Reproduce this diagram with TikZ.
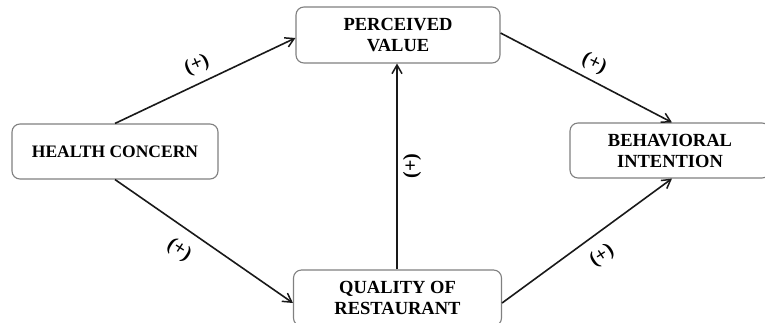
\documentclass[tikz,border=0pt]{standalone}
\usepackage{fontspec}
\setmainfont{Liberation Serif}
\usetikzlibrary{arrows.meta}
\tikzset{
  box/.style={draw=black!50, line width=1.1pt, rounded corners=8pt, fill=white,
    align=center, inner sep=0pt, font=\fontsize{18.5}{21}\selectfont\bfseries},
  conn/.style={draw=black!90, line width=1.6pt, -{Straight Barb[angle=60:10pt, line width=1.5pt]}},
  sign/.style={font=\fontsize{20}{20}\selectfont\bfseries, inner sep=0pt}
}
\begin{document}
\begin{tikzpicture}[x=1pt,y=-1pt]
\useasboundingbox[fill=white] (0,0) rectangle (765,322);
\node[box, minimum width=206pt, minimum height=55pt] (hc) at (115,151.5) {\fontsize{17.5}{21}\selectfont HEALTH CONCERN};
\node[box, minimum width=204pt, minimum height=56pt] (pv) at (398,35) {PERCEIVED\\VALUE};
\node[box, minimum width=200pt, minimum height=55pt] (bi) at (670,150.5) {BEHAVIORAL\\INTENTION};
\node[box, minimum width=208pt, minimum height=56pt] (qr) at (397.5,298) {QUALITY OF\\RESTAURANT};
\coordinate (qrt) at (397,270);
\coordinate (pvb) at (397,63);
\coordinate (bit) at (672,123);
\coordinate (bib) at (672,178);
\draw[conn] (hc.north) -- (pv.west |- 0,38);
\draw[conn] (hc.south) -- ([yshift=-5pt]qr.west);
\draw[conn] (qr.north -| qrt) -- (pv.south -| pvb);
\draw[conn] ([yshift=2pt]pv.east) -- (bi.north -| bit);
\draw[conn] ([yshift=-5pt]qr.east) -- (bi.south -| bib);
\node[sign, rotate=24] (s1) at (197,65) {(+)};
\node[sign, rotate=-26] (s2) at (594,64) {(+)};
\node[sign, rotate=-33] (s3) at (179,250) {(+)};
\node[sign, rotate=33] (s4) at (602,256) {(+)};
\node[sign, rotate=90] (s5) at (412,166) {(+)};
\end{tikzpicture}
\end{document}
